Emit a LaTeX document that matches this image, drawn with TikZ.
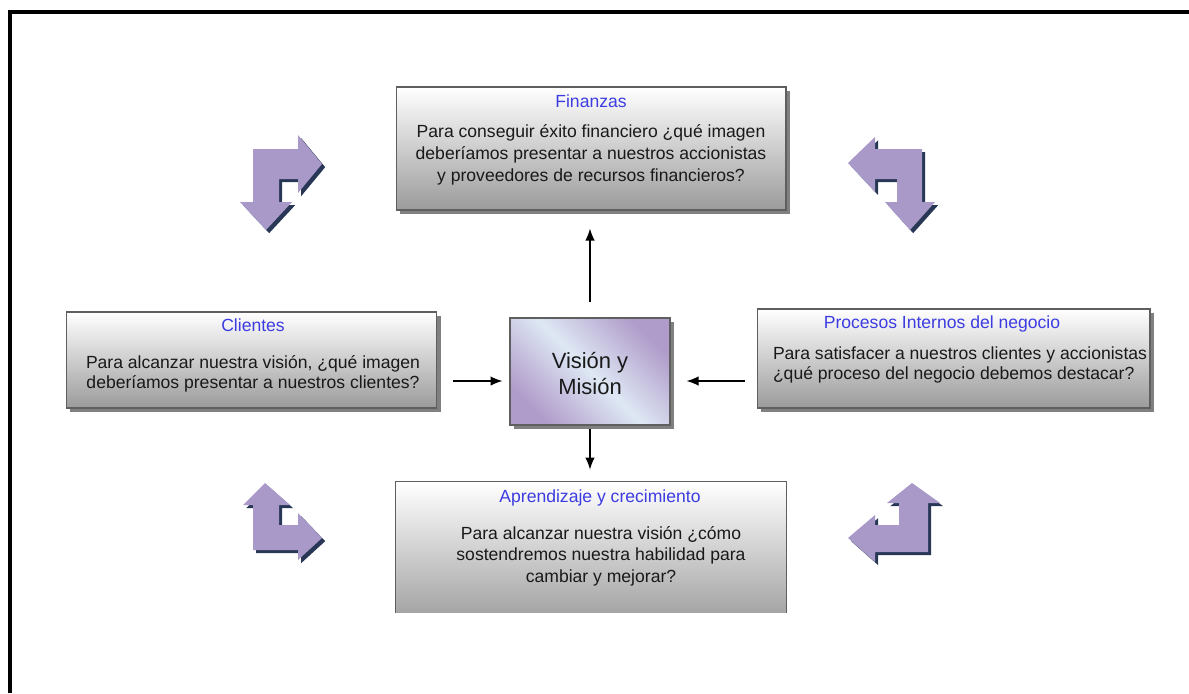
\documentclass[tikz,border=0pt]{standalone}
\usepackage{fontspec}
\setmainfont{Liberation Sans}
\usetikzlibrary{arrows.meta, calc, shadows}

\definecolor{titleblue}{RGB}{60,60,225}
\definecolor{bodyink}{RGB}{25,25,25}
\definecolor{boxedge}{RGB}{95,95,95}
\definecolor{boxlow}{RGB}{155,155,155}
\definecolor{lavender}{RGB}{168,153,200}
\definecolor{navyshade}{RGB}{40,55,85}
\definecolor{vispurple}{RGB}{176,156,202}
\definecolor{vislight}{RGB}{222,232,244}

\begin{document}
\begin{tikzpicture}[x=0.02cm, y=-0.02cm, >={Latex[length=2.4mm, width=1.9mm]},
  every node/.style={font=\fontsize{10}{12}\selectfont, text=bodyink, inner sep=0pt},
  boxbg/.style={rectangle, draw=boxedge, line width=0.6pt, top color=white, bottom color=boxlow,
    drop shadow={shadow xshift=2.2pt, shadow yshift=-2.2pt, fill=black!50, opacity=1}},
  boxtitle/.style={text=titleblue},
  boxbody/.style={align=center},
  bentarrow/.style={fill=lavender, preaction={fill=navyshade, transform canvas={xshift=1.8pt, yshift=-1.8pt}}},
  link/.style={->, line width=0.8pt}]

  \useasboundingbox (0,0) rectangle (1189,693);
  % outer frame, cut at right and bottom
  \draw[line width=2.8pt, line join=miter] (10,693) -- (10,12) -- (1189,12);

  % boxes
  \node[boxbg, minimum width=7.8cm, minimum height=2.46cm] (fin) at (591,148.5) {};
  \node[boxbg, minimum width=7.42cm, minimum height=1.92cm] (cli) at (251.5,360) {};
  \node[boxbg, minimum width=7.86cm, minimum height=1.98cm] (pro) at (953.5,358.5) {};
  \node[rectangle, top color=white, bottom color=boxlow!90, minimum width=7.8cm, minimum height=2.62cm] (apr) at (591,547.5) {};
  \draw[boxedge, line width=0.6pt] (apr.south west) -- (apr.north west) -- (apr.north east) -- (apr.south east);
  \node[rectangle, draw=boxedge, line width=0.6pt, top color=vispurple, bottom color=vispurple, middle color=vislight, shading angle=-45,
    drop shadow={shadow xshift=2.2pt, shadow yshift=-2.2pt, fill=black!50, opacity=1},
    minimum width=3.2cm, minimum height=2.14cm] (vis) at (590,371.5) {};

  % texts
  \node[boxtitle] (fintitle) at (591,101) {Finanzas};
  \node[boxbody, font=\fontsize{10}{12.5}\selectfont] (finbody) at (591,155) {Para conseguir éxito financiero ¿qué imagen\\deberíamos presentar a nuestros accionistas\\y proveedores de recursos financieros?};
  \node[boxtitle] (clititle) at (253,325) {Clientes};
  \node[boxbody, font=\fontsize{10}{11.3}\selectfont] (clibody) at (253,373.5) {Para alcanzar nuestra visión, ¿qué imagen\\deberíamos presentar a nuestros clientes?};
  \node[boxtitle] (protitle) at (942,324) {Procesos Internos del negocio};
  \node[align=left, font=\fontsize{10}{11.3}\selectfont] (probody) at (960,365) {Para satisfacer a nuestros clientes y accionistas\\¿qué proceso del negocio debemos destacar?};
  \node[boxtitle] (aprtitle) at (600,498) {Aprendizaje y crecimiento};
  \node[boxbody, font=\fontsize{10}{12.2}\selectfont] (aprbody) at (601,556) {Para alcanzar nuestra visión ¿cómo\\sostendremos nuestra habilidad para\\cambiar y mejorar?};
  \node[boxbody, font=\fontsize{12.5}{14.8}\selectfont] (vistext) at (590,374) {Visión y\\Misión};

  % connectors
  \coordinate (midrow) at (590,381);
  \draw[link, shorten <=0.3cm, shorten >=0.36cm] (vis.north) -- (vis.north |- fin.south);
  \draw[link, shorten <=0.32cm, shorten >=0.14cm] (cli.east |- midrow) -- (vis.west |- midrow);
  \draw[link, shorten <=0.24cm, shorten >=0.32cm] (pro.west |- midrow) -- (vis.east |- midrow);
  \draw[link, shorten <=0.06cm, shorten >=0.24cm] (vis.south) -- (vis.south |- apr.north);

  % bent arrows in the corners
  \fill[bentarrow] (253,149) -- (298,149) -- (298,135) -- (322,164) -- (298,193) -- (298,179) -- (279,179)
    -- (279,202) -- (292,202) -- (266,230) -- (240,202) -- (253,202) -- cycle;
  \fill[bentarrow] (922,149) -- (875,149) -- (875,137) -- (848,163) -- (875,192) -- (875,179) -- (897,179)
    -- (897,202) -- (885,202) -- (910,230) -- (935,202) -- (922,202) -- cycle;
  \fill[bentarrow] (265,483) -- (290,505) -- (279,505) -- (279,525) -- (298,525) -- (298,513) -- (322,538)
    -- (298,560) -- (298,550) -- (253,550) -- (253,505) -- (243,505) -- cycle;
  \fill[bentarrow] (912,483) -- (940,503) -- (928,503) -- (928,552) -- (875,552) -- (875,562) -- (848,538)
    -- (875,515) -- (875,525) -- (899,525) -- (899,503) -- (887,503) -- cycle;
\end{tikzpicture}
\end{document}
